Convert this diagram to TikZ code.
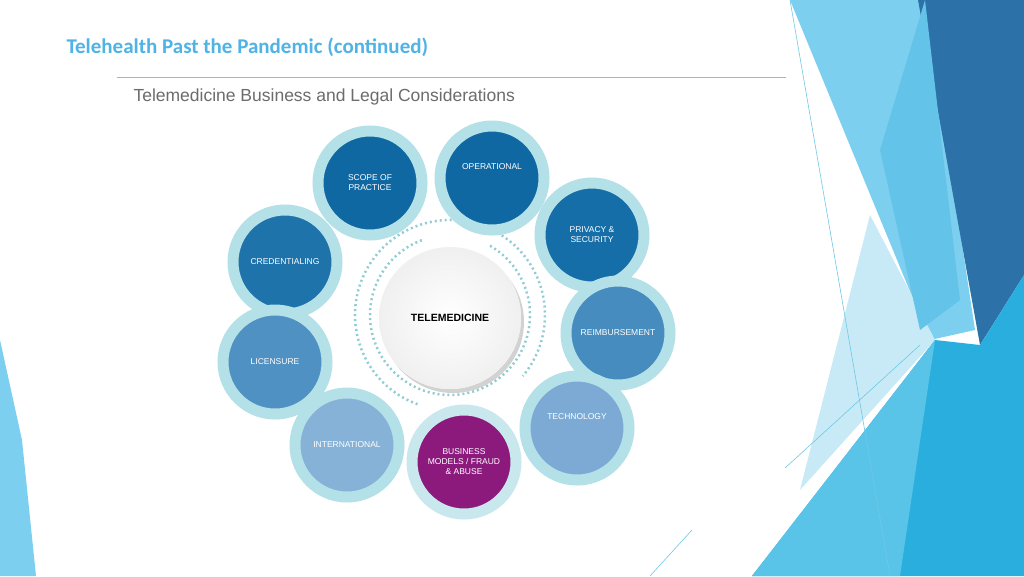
\documentclass[tikz,border=0pt]{standalone}
\usepackage{fontspec}
\setmainfont{Liberation Sans}
\newfontfamily\calfont{Carlito}
\usetikzlibrary{shadows}
\definecolor{ring}{HTML}{B4E0E8}
\definecolor{ttl}{HTML}{4FB3E5}
\definecolor{dA}{HTML}{7DCFEF}
\definecolor{dB}{HTML}{C8EAF7}
\definecolor{dC}{HTML}{2C72A8}
\definecolor{dD}{HTML}{64C3E8}
\definecolor{dE}{HTML}{29AEDE}
\definecolor{dF}{HTML}{5AC4E8}
\definecolor{dL}{HTML}{6EC8E6}
\definecolor{cA}{HTML}{0F68A2}
\definecolor{cB}{HTML}{166EA8}
\definecolor{cC}{HTML}{1E73AA}
\definecolor{cD}{HTML}{468CBE}
\definecolor{cE}{HTML}{5091C3}
\definecolor{cF}{HTML}{7DAAD4}
\definecolor{cG}{HTML}{87B2D7}
\definecolor{cP}{HTML}{8C1A7D}
\definecolor{ringP}{HTML}{C8E8EE}
\begin{document}
\begin{tikzpicture}[x=1pt,y=-1pt,
  bub/.style={circle,minimum size=104pt,draw=ring,line width=11pt,text=white,font=\fontsize{8.5}{10}\selectfont,align=center,inner sep=0pt},
  dots/.style={draw=ring!80!teal,line width=2.5pt,dash pattern=on 2pt off 3pt}]
\useasboundingbox (0,0) rectangle (1024,576);
\fill[white] (0,0) rectangle (1024,576);
% right decoration
\fill[dA] (790,0) -- (925,0) -- (975,330) -- (930,340) -- cycle;
\fill[dB] (800,490) -- (870,215) -- (935,340) -- cycle;
\fill[dC] (918,0) -- (1024,0) -- (1024,275) -- (980,345) -- cycle;
\fill[dD] (880,150) -- (925,0) -- (960,300) -- (920,330)--cycle;
\fill[dE] (752,576) -- (935,340) -- (980,345) -- (1024,275) -- (1024,576) -- cycle;
\fill[dF] (752,576) -- (935,340) -- (900,576) -- cycle;
\draw[dL,line width=0.6pt] (790,0) -- (890,576);
\draw[dL,line width=0.6pt] (785,468) -- (920,345);
\draw[dL,line width=0.6pt] (650,576) -- (692,530);
\fill[dA] (0,340) -- (22,440) -- (36,576) -- (0,576) -- cycle;
% title
\node[anchor=west,font=\calfont\bfseries\fontsize{21}{24}\selectfont,text=ttl] (title) at (63,47) {Telehealth Past the Pandemic (continued)};
\draw[gray!60,line width=1pt] (117,77) -- (786,77);
\node[anchor=west,font=\fontsize{17.5}{20}\selectfont,text=gray!85!black] (sub) at (130,97) {Telemedicine Business and Legal Considerations};
% dotted arcs
\draw[dots] (450,315) ++(110:95) arc (110:400:95);
\draw[dots] (450,315) ++(300:80) arc (-60:250:80);
% bubbles
\node[bub,fill=cA] (scope) at (370,183) {SCOPE OF\\PRACTICE};
\node[bub,fill=cA] (oper) at (492,178) {OPERATIONAL\\[12pt]};
\node[bub,fill=cB] (priv) at (592,235) {PRIVACY \&\\SECURITY};
\node[bub,fill=cC] (cred) at (285,262) {CREDENTIALING};
\node[bub,fill=cD] (reim) at (618,333) {REIMBURSEMENT};
\node[bub,fill=cE] (lic) at (275,362) {LICENSURE};
\node[bub,fill=cF] (tech) at (577,428) {TECHNOLOGY\\[12pt]};
\node[bub,fill=cG] (intl) at (347,445) {INTERNATIONAL};
\node[bub,fill=cP,draw=ringP] (biz) at (464,462) {BUSINESS\\MODELS / FRAUD\\\& ABUSE};
\node[circle,minimum size=142pt,fill=white,drop shadow={opacity=0.35,shadow xshift=3pt,shadow yshift=-4pt},inner color=white,outer color=gray!12,font=\bfseries\fontsize{10.5}{12}\selectfont] (tele) at (450,318) {TELEMEDICINE};
\end{tikzpicture}
\end{document}
